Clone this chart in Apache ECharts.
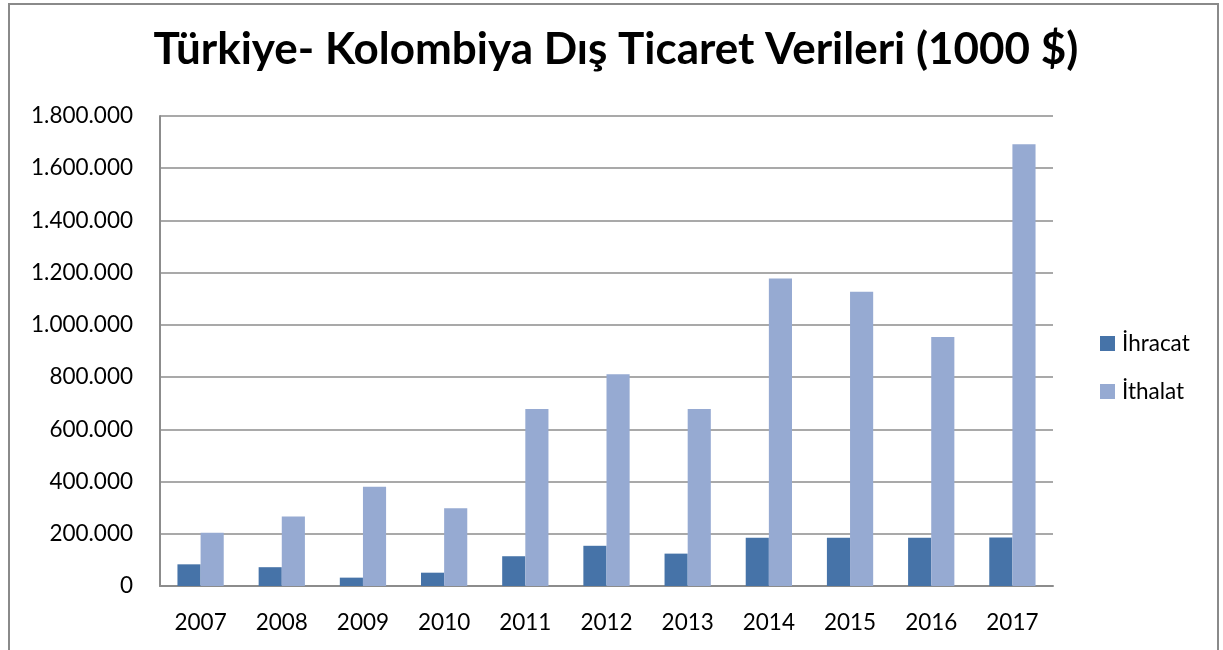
<!DOCTYPE html>
<html>
<head>
<meta charset="utf-8">
<script src="https://cdn.jsdelivr.net/npm/echarts@6/dist/echarts.min.js"></script>
<style>
  html, body { margin: 0; padding: 0; background: #fff; }
  #frame {
    position: absolute; left: 8px; top: 3px; width: 1211px; height: 660px;
    border: 2px solid #8a8a8a; box-sizing: border-box;
  }
  #chart { position: absolute; left: 0; top: 0; width: 1223px; height: 650px; }
</style>
</head>
<body>
<div id="frame"></div>
<div id="chart"></div>
<script>
  // Years on the category axis.
  var years = ['2007', '2008', '2009', '2010', '2011', '2012', '2013', '2014', '2015', '2016', '2017'];
  // Values in 1000 $.
  var ihracat = [83000, 72000, 32000, 51000, 114000, 154000, 124000, 185000, 185000, 185000, 186000];
  var ithalat = [204000, 266000, 380000, 298000, 678000, 811000, 678000, 1178000, 1127000, 954000, 1692000];
  var seriesNames = ['İhracat', 'İthalat'];

  function dotted(v) {
    return String(v).replace(/\B(?=(\d{3})+(?!\d))/g, '.');
  }

  var chart = echarts.init(document.getElementById('chart'), null, {
    renderer: 'canvas',
    width: 1223,
    height: 650,
  });

  var option = {
    animation: false,
    textStyle: {
      fontFamily: 'Lato',
    },
    title: {
      text: 'Türkiye- Kolombiya Dış Ticaret Verileri (1000 $)',
      left: 611,
      textAlign: 'center',
      top: 23,
      textStyle: {
        fontFamily: 'Lato',
        fontWeight: 'bold',
        fontSize: 44,
        color: '#000',
      },
    },
    legend: {
      orient: 'vertical',
      left: 1095,
      top: 327,
      itemWidth: 15,
      itemHeight: 15,
      itemGap: 25,
      icon: 'rect',
      data: seriesNames,
      textStyle: {
        fontSize: 22.5,
        color: '#000',
        padding: [0, 0, 0, 2],
      },
    },
    grid: {
      left: 160,
      right: 170,
      top: 116,
      bottom: 64,
    },
    xAxis: {
      type: 'category',
      data: years,
      axisLine: { lineStyle: { color: '#8c8c8c', width: 2 } },
      axisTick: { show: false },
      axisLabel: {
        margin: 25,
        fontSize: 22.5,
        color: '#000',
      },
    },
    yAxis: {
      type: 'value',
      min: 0,
      max: 1800000,
      interval: 200000,
      axisLine: { show: true, lineStyle: { color: '#8c8c8c', width: 2 } },
      axisTick: { show: false },
      splitLine: { lineStyle: { color: '#8c8c8c', width: 1.5 } },
      axisLabel: {
        margin: 27,
        fontSize: 22.5,
        color: '#000',
        formatter: dotted,
      },
    },
    series: [{
      name: seriesNames[0],
      type: 'bar',
      data: ihracat,
      barGap: '0%',
      barCategoryGap: '43%',
      itemStyle: { color: '#4673a8' },
    }, {
      name: seriesNames[1],
      type: 'bar',
      data: ithalat,
      barGap: '0%',
      barCategoryGap: '43%',
      itemStyle: { color: '#96aad2' },
    }],
  };

  chart.setOption(option);
</script>
</body>
</html>
